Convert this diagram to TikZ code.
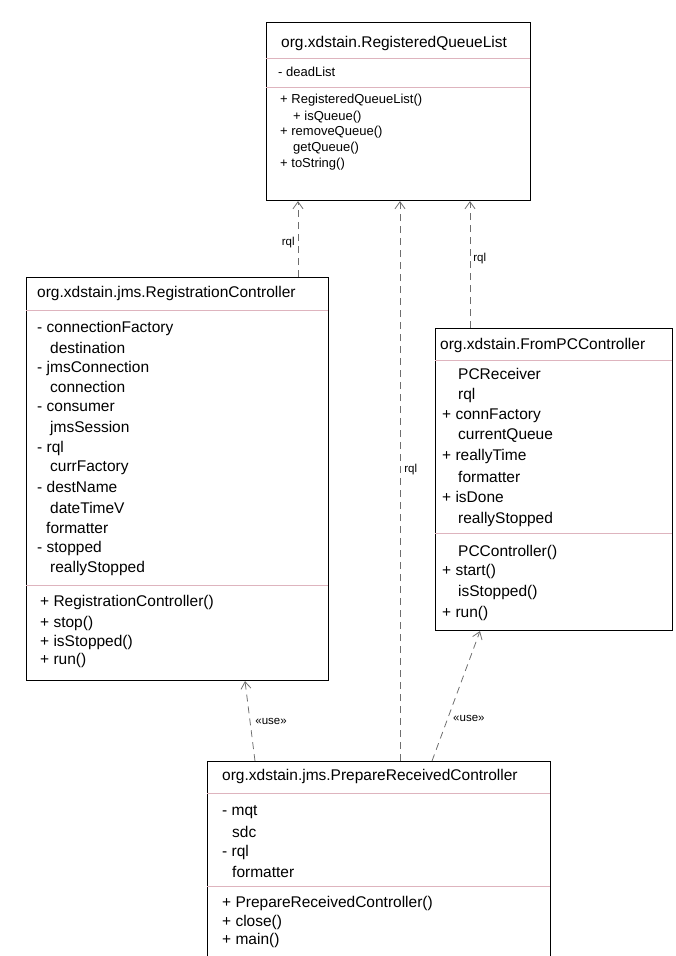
\documentclass[tikz,border=0pt]{standalone}
\usepackage{fontspec}
\setmainfont{Liberation Sans}
\usetikzlibrary{arrows.meta}
\definecolor{sepcol}{RGB}{222,180,190}
\definecolor{linkcol}{RGB}{110,110,110}
\begin{document}
\begin{tikzpicture}[x=1pt,y=-1pt,
  classbox/.style={draw=black, line width=1.1pt, fill=white, anchor=north west, inner sep=0pt},
  member/.style={anchor=west, inner sep=0pt, font=\fontsize{15.5}{17}\selectfont},
  smallmember/.style={member, font=\fontsize{13}{15}\selectfont},
  sepline/.style={draw=sepcol, line width=0.7pt},
  assoc/.style={draw=linkcol, line width=0.8pt, dash pattern=on 7pt off 5pt,
    -{Straight Barb[length=7pt,width=10pt]}},
  role/.style={font=\fontsize{11.5}{13}\selectfont, inner sep=1pt, fill=white}]
\useasboundingbox (0,0) rectangle (675,956);
\clip (0,0) rectangle (675,956);

% ---------- class boxes ----------
\node[classbox, minimum width=264pt, minimum height=178pt] (qlist) at (266,22) {};
\node[classbox, minimum width=302pt, minimum height=403pt] (regctl) at (26,277) {};
\node[classbox, minimum width=237pt, minimum height=302pt] (pcctl) at (435,328) {};
\node[classbox, minimum width=343pt, minimum height=240pt] (prepctl) at (207,761) {};

% ---------- RegisteredQueueList ----------
\node[member] (q0) at (281,43) {org.xdstain.RegisteredQueueList};
\draw[sepline] (266,58) -- (530,58);
\node[smallmember] (q1) at (278,72) {- deadList};
\draw[sepline] (266,87) -- (530,87);
\node[smallmember] (q2) at (280,100) {+ RegisteredQueueList()};
\node[smallmember] (q3) at (293,117) {+ isQueue()};
\node[smallmember] (q4) at (280,132) {+ removeQueue()};
\node[smallmember] (q5) at (293,148) {getQueue()};
\node[smallmember] (q6) at (280,164) {+ toString()};

% ---------- RegistrationController ----------
\node[member] (r0) at (37,293) {org.xdstain.jms.RegistrationController};
\draw[sepline] (26,310) -- (328,310);
\node[member] (r1) at (37,328) {- connectionFactory};
\node[member] (r2) at (50,348) {destination};
\node[member] (r3) at (37,368) {- jmsConnection};
\node[member] (r4) at (50,387) {connection};
\node[member] (r5) at (37,407) {- consumer};
\node[member] (r6) at (50,428) {jmsSession};
\node[member] (r7) at (37,448) {- rql};
\node[member] (r8) at (50,468) {currFactory};
\node[member] (r9) at (37,487) {- destName};
\node[member] (r10) at (50,508) {dateTimeV};
\node[member] (r11) at (46,528) {formatter};
\node[member] (r12) at (37,548) {- stopped};
\node[member] (r13) at (50,568) {reallyStopped};
\draw[sepline] (26,585) -- (328,585);
\node[member] (r14) at (40,602) {+ RegistrationController()};
\node[member] (r15) at (40,623) {+ stop()};
\node[member] (r16) at (40,642) {+ isStopped()};
\node[member] (r17) at (40,660) {+ run()};

% ---------- FromPCController ----------
\node[member] (p0) at (440,345) {org.xdstain.FromPCController};
\draw[sepline] (435,360) -- (672,360);
\node[member] (p1) at (458,374) {PCReceiver};
\node[member] (p2) at (458,395) {rql};
\node[member] (p3) at (442,416) {+ connFactory};
\node[member] (p4) at (458,436) {currentQueue};
\node[member] (p5) at (442,456) {+ reallyTime};
\node[member] (p6) at (458,477) {formatter};
\node[member] (p7) at (442,497) {+ isDone};
\node[member] (p8) at (458,519) {reallyStopped};
\draw[sepline] (435,533) -- (672,533);
\node[member] (p9) at (458,552) {PCController()};
\node[member] (p10) at (442,571) {+ start()};
\node[member] (p11) at (458,592) {isStopped()};
\node[member] (p12) at (442,613) {+ run()};

% ---------- PrepareReceivedController ----------
\node[member] (b0) at (222,776) {org.xdstain.jms.PrepareReceivedController};
\draw[sepline] (207,793) -- (550,793);
\node[member] (b1) at (222,812) {- mqt};
\node[member] (b2) at (232,832) {sdc};
\node[member] (b3) at (222,852) {- rql};
\node[member] (b4) at (232,872) {formatter};
\draw[sepline] (207,886) -- (550,886);
\node[member] (b5) at (222,903) {+ PrepareReceivedController()};
\node[member] (b6) at (222,922) {+ close()};
\node[member] (b7) at (222,940) {+ main()};

% ---------- associations ----------
\draw[assoc] ([xshift=272pt]regctl.north west) -- ([xshift=32pt]qlist.south west)
  node[role, pos=0.45, left=2pt] {rql};
\draw[assoc] ([xshift=193pt]prepctl.north west) -- ([xshift=134pt]qlist.south west)
  node[role, pos=0.52, right=3pt] {rql};
\draw[assoc] ([xshift=35pt]pcctl.north west) -- ([xshift=204pt]qlist.south west)
  node[role, pos=0.55, right=2pt] {rql};
\draw[assoc] ([xshift=48pt]prepctl.north west) -- ([xshift=219pt]regctl.south west)
  node[role, pos=0.5, right=4pt] {«use»};
\draw[assoc] ([xshift=225pt]prepctl.north west) -- ([xshift=45pt]pcctl.south west)
  node[role, pos=0.33, right=4pt] {«use»};
\end{tikzpicture}
\end{document}
